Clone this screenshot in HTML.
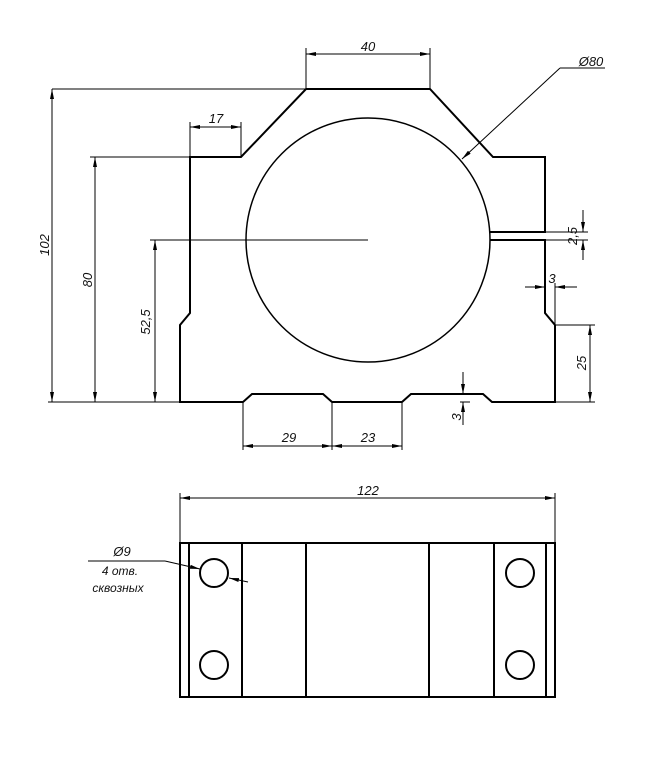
<!DOCTYPE html>
<html><head><meta charset="utf-8"><style>
html,body{margin:0;padding:0;background:#fff;width:665px;height:773px;overflow:hidden}
text{font-family:"Liberation Sans","DejaVu Sans",sans-serif;font-style:italic;font-size:13px;fill:#111}
</style></head><body>
<svg width="665" height="773" viewBox="0 0 665 773" xmlns="http://www.w3.org/2000/svg">
<defs>
<marker id="a" viewBox="0 0 10 4" refX="10" refY="2" markerWidth="10" markerHeight="4" orient="auto-start-reverse" markerUnits="userSpaceOnUse"><path d="M0,0 L10,2 L0,4z" fill="#000"/></marker>
</defs>
<g fill="none" stroke="#000" stroke-width="2">
<path d="M490,232 H545 V157 H493 L430,89 H306 L241,157 H190 V313 L180,325 V402 H243 L252,394 H323 L332,402 H402 L411,394 H483 L492,402 H555 V325 L545,313 V240 H490"/>
<circle cx="368" cy="240" r="122" stroke-width="1.5"/>
<rect x="180" y="543" width="375" height="154"/>
<path d="M189,543V697M242,543V697M306,543V697M429,543V697M494,543V697M546,543V697"/>
<circle cx="214" cy="573" r="14"/><circle cx="214" cy="665" r="14"/>
<circle cx="520" cy="573" r="14"/><circle cx="520" cy="665" r="14"/>
</g>
<g fill="none" stroke="#000" stroke-width="1">
<path d="M306,89V48M430,89V48M190,157V122M241,157V122M52,89H306M48,402H180M90,157H190M150,240H368M545,232H588M545,240H588M555,325V283M555,325H595M555,402H595M243,402V450M332,402V450M402,402V450M180,543V493M555,543V493M560,68H605"/>
<line x1="306" y1="54" x2="430" y2="54" marker-start="url(#a)" marker-end="url(#a)"/>
<line x1="190" y1="127" x2="241" y2="127" marker-start="url(#a)" marker-end="url(#a)"/>
<line x1="52" y1="89" x2="52" y2="402" marker-start="url(#a)" marker-end="url(#a)"/>
<line x1="95" y1="157" x2="95" y2="402" marker-start="url(#a)" marker-end="url(#a)"/>
<line x1="155" y1="240" x2="155" y2="402" marker-start="url(#a)" marker-end="url(#a)"/>
<line x1="560" y1="68" x2="462" y2="159" marker-end="url(#a)"/>
<line x1="583" y1="210" x2="583" y2="232" marker-end="url(#a)"/>
<line x1="583" y1="260" x2="583" y2="240" marker-end="url(#a)"/>
<line x1="525" y1="287" x2="545" y2="287" marker-end="url(#a)"/>
<line x1="577" y1="287" x2="555" y2="287" marker-end="url(#a)"/>
<line x1="590" y1="325" x2="590" y2="402" marker-start="url(#a)" marker-end="url(#a)"/>
<line x1="463" y1="372" x2="463" y2="394" marker-end="url(#a)"/>
<line x1="463" y1="425" x2="463" y2="402" marker-end="url(#a)"/>
<line x1="460" y1="402" x2="470" y2="402"/>
<line x1="243" y1="446" x2="332" y2="446" marker-start="url(#a)" marker-end="url(#a)"/>
<line x1="332" y1="446" x2="402" y2="446" marker-start="url(#a)" marker-end="url(#a)"/>
<line x1="180" y1="498" x2="555" y2="498" marker-start="url(#a)" marker-end="url(#a)"/>
<path d="M88,561H165"/>
<line x1="165" y1="561" x2="200" y2="569" marker-end="url(#a)"/>
<line x1="248" y1="582" x2="229" y2="578" marker-end="url(#a)"/>
</g>
<text x="368" y="51" text-anchor="middle">40</text>
<text x="216" y="123" text-anchor="middle">17</text>
<text x="591" y="66" text-anchor="middle">Ø80</text>
<text transform="translate(49,245) rotate(-90)" text-anchor="middle">102</text>
<text transform="translate(92,280) rotate(-90)" text-anchor="middle">80</text>
<text transform="translate(150,322) rotate(-90)" text-anchor="middle">52,5</text>
<text transform="translate(577,236) rotate(-90)" text-anchor="middle">2,5</text>
<text x="552" y="283" text-anchor="middle">3</text>
<text transform="translate(586,363) rotate(-90)" text-anchor="middle">25</text>
<text transform="translate(461,417) rotate(-90)" text-anchor="middle">3</text>
<text x="289" y="442" text-anchor="middle">29</text>
<text x="368" y="442" text-anchor="middle">23</text>
<text x="368" y="495" text-anchor="middle">122</text>
<text x="122" y="556" text-anchor="middle">Ø9</text>
<text x="120" y="575" text-anchor="middle" style="font-size:12px">4 отв.</text>
<text x="118" y="592" text-anchor="middle" style="font-size:12px">сквозных</text>
</svg>
</body></html>
